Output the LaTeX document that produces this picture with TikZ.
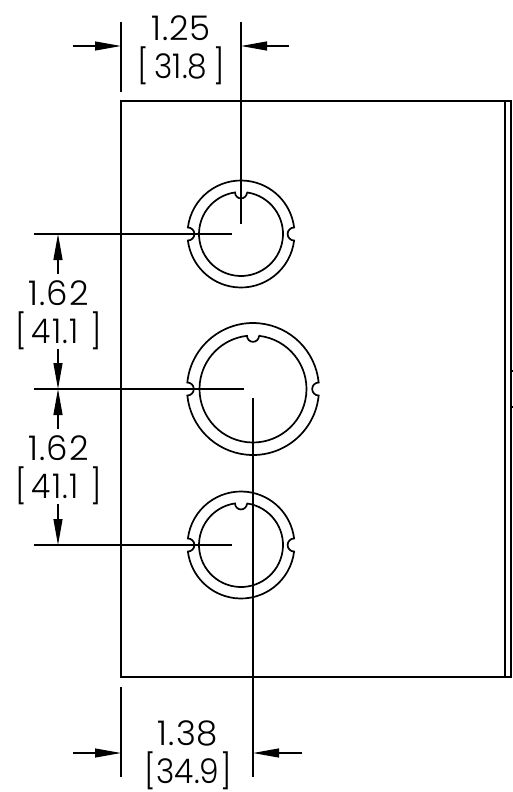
\documentclass[tikz,border=0pt]{standalone}
\usepackage{fontspec}
\setmainfont{Poppins Light}[Kerning=Off,LetterSpace=3]
\newfontfamily\bracketfont{Poppins Light}[Kerning=Off,FakeStretch=0.92]
\usetikzlibrary{arrows.meta}
\tikzset{
  partline/.style={black,line width=1.6pt},
  holeline/.style={black,line width=1.7pt},
  extline/.style={black,line width=1.1pt},
  dimline/.style={black,line width=1.1pt,-{Triangle[length=26pt,width=9pt]}},
  dimlabel/.style={inner sep=0pt,align=center,font=\fontsize{34}{38}\selectfont}
}
\newcommand{\bracketed}[1]{\makebox[87pt]{\bracketfont{[}\hfill #1\hfill{]}}}
\newcommand{\notchedhole}[3]{
  \pgfmathsetmacro{\outerang}{asin(6.5/#2)}
  \pgfmathsetmacro{\innerang}{asin(6/#3)}
  \draw [holeline,shift={(#1)}] (180-\outerang:#2) arc (180-\outerang:\outerang:#2)
    arc (90:270:6.5) arc (-\outerang:-180+\outerang:#2) arc (-90:90:6.5) -- cycle;
  \draw [holeline,shift={(#1)}] (90-\innerang:#3) arc (90-\innerang:-270+\innerang:#3)
    arc (180:360:6) -- cycle;
}
\begin{document}
\begin{tikzpicture}[x=1pt,y=1pt]
\useasboundingbox (0,0) rectangle (513,-792);
% plate
\coordinate (platetl) at (121,-101);
\coordinate (platebr) at (511,-677);
\coordinate (foldtop) at (505,-101);
\coordinate (foldbot) at (505,-677);
\draw [partline] (platetl) rectangle (platebr);
\draw [partline] (foldtop) -- (foldbot);
% small marks on the plate edge
\draw [extline] (128,-100) -- (128,-102);
\draw [extline] (128,-676) -- (128,-678);
\draw [extline] (497,-100) -- (497,-102);
\draw [extline] (511,-371) -- (513,-371);
\draw [extline] (511,-407) -- (513,-407);
% holes
\coordinate (holetop) at (241,-234);
\coordinate (holemid) at (253,-389);
\coordinate (holebot) at (241,-545);
\notchedhole{holetop}{53.5}{42}
\notchedhole{holemid}{66}{53.5}
\notchedhole{holebot}{53.5}{42}
% top dimension
\coordinate (exta) at (121,-22);
\coordinate (extb) at (121,-92);
\coordinate (extc) at (241,-22);
\coordinate (extd) at (241,-224);
\coordinate (arra) at (73,-46);
\coordinate (arrb) at (121,-46);
\coordinate (arrc) at (289,-46);
\coordinate (arrd) at (241,-46);
\draw [extline] (exta) -- (extb);
\draw [extline] (extc) -- (extd);
\draw [dimline] (arra) -- (arrb);
\draw [dimline] (arrc) -- (arrd);
\node [dimlabel] (labeltop) at (181,-50) {1.25\\\bracketed{31.8}};
% left dimensions
\coordinate (lefta) at (34,-234);
\coordinate (leftb) at (232,-234);
\coordinate (leftc) at (34,-389);
\coordinate (leftd) at (244,-389);
\coordinate (lefte) at (34,-545);
\coordinate (leftf) at (232,-545);
\coordinate (upa) at (58,-274);
\coordinate (upb) at (58,-234);
\coordinate (upc) at (58,-349);
\coordinate (upd) at (58,-389);
\coordinate (upe) at (58,-429);
\coordinate (upf) at (58,-389);
\coordinate (upg) at (58,-504);
\coordinate (uph) at (58,-545);
\draw [extline] (lefta) -- (leftb);
\draw [extline] (leftc) -- (leftd);
\draw [extline] (lefte) -- (leftf);
\draw [dimline] (upa) -- (upb);
\draw [dimline] (upc) -- (upd);
\draw [dimline] (upe) -- (upf);
\draw [dimline] (upg) -- (uph);
\node [dimlabel] (labelupper) at (58.5,-315) {1.62\\\bracketed{\addfontfeature{LetterSpace=4}41.1\hspace{6pt}}};
\node [dimlabel] (labellower) at (58.5,-470) {1.62\\\bracketed{\addfontfeature{LetterSpace=4}41.1\hspace{6pt}}};
% bottom dimension
\coordinate (exte) at (121,-687);
\coordinate (extf) at (121,-777);
\coordinate (extg) at (253,-398);
\coordinate (exth) at (253,-777);
\coordinate (arre) at (73,-753);
\coordinate (arrf) at (121,-753);
\coordinate (arrg) at (302,-753);
\coordinate (arrh) at (253,-753);
\draw [extline] (exte) -- (extf);
\draw [extline] (extg) -- (exth);
\draw [dimline] (arre) -- (arrf);
\draw [dimline] (arrg) -- (arrh);
\node [dimlabel] (labelbot) at (188,-755) {1.38\\\bracketed{34.9}};
\end{tikzpicture}
\end{document}
